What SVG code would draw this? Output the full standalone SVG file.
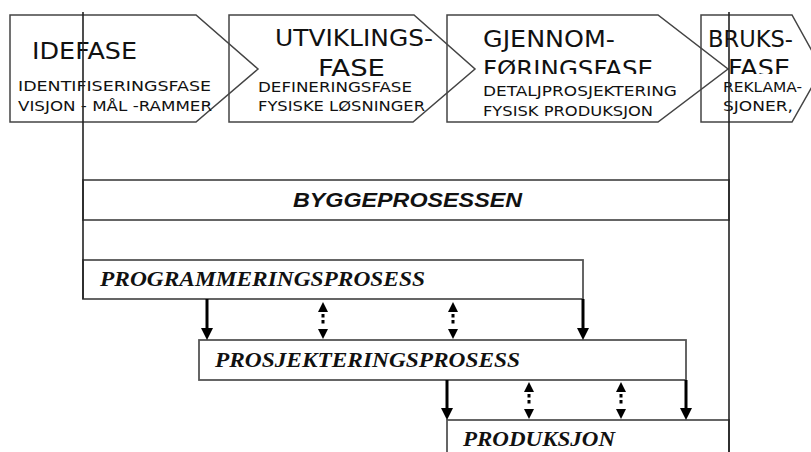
<svg xmlns="http://www.w3.org/2000/svg" width="811" height="452" viewBox="0 0 811 452">
<style>
.phase{fill:none;stroke:#444;stroke-width:1.5;stroke-linejoin:miter}
.box{fill:none;stroke:#555;stroke-width:1.8}
.vline{stroke:#222;stroke-width:1.6;fill:none}
.ttl{font-family:"DejaVu Sans","Liberation Sans",sans-serif;font-size:23px;fill:#111}
.sub{font-family:"DejaVu Sans","Liberation Sans",sans-serif;font-size:14.5px;fill:#111}
.proc{font-family:"Liberation Serif","Times New Roman",serif;font-weight:bold;font-style:italic;font-size:22px;fill:#111}
.main{font-family:"Liberation Sans",Arial,sans-serif;font-weight:bold;font-style:italic;font-size:20px;fill:#111}
.solid{stroke:#000;stroke-width:3;fill:none}
.dot{stroke:#000;stroke-width:3;fill:none;stroke-dasharray:0 2 3.5 2.5 3.5 30}
</style>
<defs>
<marker id="ah" markerUnits="userSpaceOnUse" viewBox="0 0 12 12" refX="2" refY="6" markerWidth="12" markerHeight="12" orient="auto">
<path d="M0,0 L12,6 L0,12 Z" fill="#000"/>
</marker>
<marker id="dh" markerUnits="userSpaceOnUse" viewBox="0 0 10 10" refX="0" refY="5" markerWidth="10" markerHeight="10" orient="auto-start-reverse">
<path d="M0,0 L10,5 L0,10 Z" fill="#000"/>
</marker>
<clipPath id="cut"><rect x="0" y="0" width="811" height="74"/></clipPath>
</defs>

<g id="idefase">
<path class="phase" d="M10,15 H196 L258,69 L196,122 H10 Z"/>
<text class="ttl" x="32" y="59" textLength="105" lengthAdjust="spacingAndGlyphs">IDEFASE</text>
<text class="sub" x="18" y="91" textLength="193" lengthAdjust="spacingAndGlyphs">IDENTIFISERINGSFASE</text>
<text class="sub" x="18" y="111" textLength="194" lengthAdjust="spacingAndGlyphs">VISJON - MÅL -RAMMER</text>
</g>

<g id="utviklingsfase">
<path class="phase" d="M229,15 H414 L475,69 L413,122 H229 Z"/>
<text class="ttl" x="275" y="46" textLength="158" lengthAdjust="spacingAndGlyphs">UTVIKLINGS-</text>
<text class="ttl" x="318" y="76" textLength="67" lengthAdjust="spacingAndGlyphs">FASE</text>
<text class="sub" x="258" y="92" textLength="154" lengthAdjust="spacingAndGlyphs">DEFINERINGSFASE</text>
<text class="sub" x="258" y="111" textLength="167" lengthAdjust="spacingAndGlyphs">FYSISKE LØSNINGER</text>
</g>

<g id="gjennomforingsfase">
<path class="phase" d="M447,15 H658 L728,69 L658,122 H447 Z"/>
<text class="ttl" x="483" y="47" textLength="132" lengthAdjust="spacingAndGlyphs">GJENNOM-</text>
<text class="ttl" x="483" y="77" textLength="170" lengthAdjust="spacingAndGlyphs" clip-path="url(#cut)">FØRINGSFASE</text>
<text class="sub" x="483" y="96" textLength="194" lengthAdjust="spacingAndGlyphs">DETALJPROSJEKTERING</text>
<text class="sub" x="483" y="116" textLength="170" lengthAdjust="spacingAndGlyphs">FYSISK PRODUKSJON</text>
</g>

<g id="bruksfase">
<path class="phase" d="M701,15 H792 L822,69 L792,122 H701 Z"/>
<text class="ttl" x="708" y="47" textLength="85" lengthAdjust="spacingAndGlyphs">BRUKS-</text>
<text class="ttl" x="728" y="76" textLength="62" lengthAdjust="spacingAndGlyphs" clip-path="url(#cut)">FASE</text>
<text class="sub" x="723" y="92" textLength="79" lengthAdjust="spacingAndGlyphs">REKLAMA-</text>
<text class="sub" x="723" y="111" textLength="70" lengthAdjust="spacingAndGlyphs">SJONER,</text>
</g>

<g id="byggeprosessen">
<rect class="box" x="83" y="180" width="646" height="40"/>
<text class="main" x="293" y="207" textLength="229" lengthAdjust="spacingAndGlyphs">BYGGEPROSESSEN</text>
</g>

<g id="programmeringsprosess">
<rect class="box" x="83" y="260" width="500" height="39"/>
<text class="proc" x="100" y="286" textLength="325" lengthAdjust="spacingAndGlyphs">PROGRAMMERINGSPROSESS</text>
</g>

<g id="prosjekteringsprosess">
<rect class="box" x="199" y="340" width="487" height="40"/>
<text class="proc" x="215" y="367" textLength="305" lengthAdjust="spacingAndGlyphs">PROSJEKTERINGSPROSESS</text>
</g>

<g id="produksjon">
<rect class="box" x="447" y="420" width="282" height="45"/>
<text class="proc" x="463" y="446" textLength="152" lengthAdjust="spacingAndGlyphs">PRODUKSJON</text>
</g>

<g id="connectors">
<line class="vline" x1="83" y1="12" x2="83" y2="299"/>
<line class="vline" x1="729" y1="12" x2="729" y2="452"/>
<line class="solid" x1="207" y1="299" x2="207" y2="330" marker-end="url(#ah)"/>
<line class="solid" x1="583" y1="299" x2="583" y2="330" marker-end="url(#ah)"/>
<line class="dot" x1="323" y1="312" x2="323" y2="329" marker-start="url(#dh)" marker-end="url(#dh)"/>
<line class="dot" x1="453" y1="312" x2="453" y2="329" marker-start="url(#dh)" marker-end="url(#dh)"/>
<line class="solid" x1="447" y1="380" x2="447" y2="410" marker-end="url(#ah)"/>
<line class="solid" x1="686" y1="380" x2="686" y2="410" marker-end="url(#ah)"/>
<line class="dot" x1="529" y1="392" x2="529" y2="409" marker-start="url(#dh)" marker-end="url(#dh)"/>
<line class="dot" x1="621" y1="392" x2="621" y2="409" marker-start="url(#dh)" marker-end="url(#dh)"/>
</g>
</svg>
